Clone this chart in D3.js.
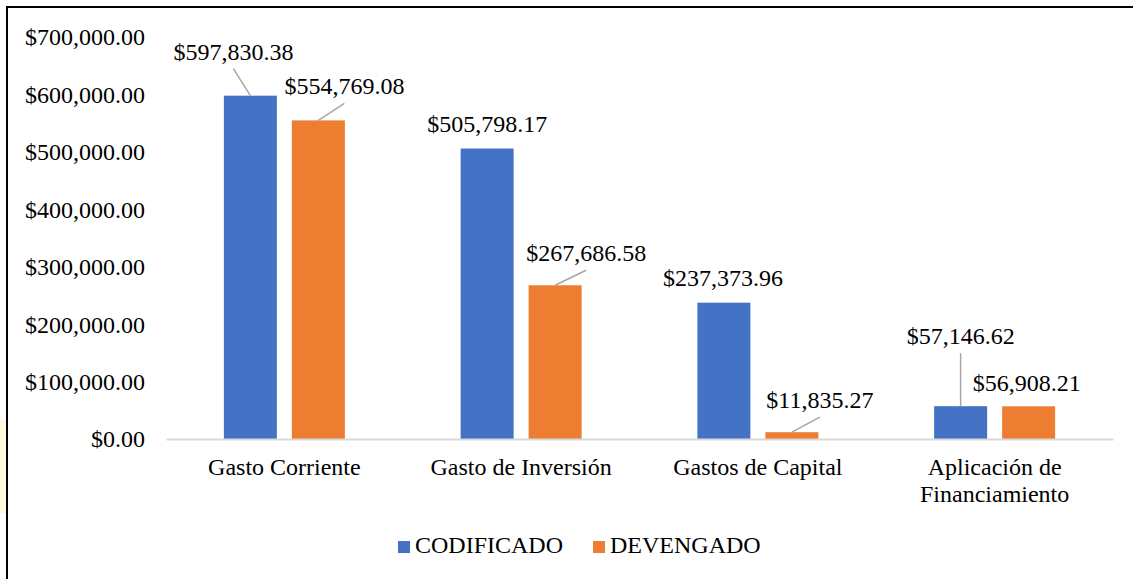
<!DOCTYPE html>
<html>
<head>
<meta charset="utf-8">
<script src="https://cdn.jsdelivr.net/npm/d3@7"></script>
</head>
<body style="margin:0; background:#fff">
<svg></svg>
<script>
let categories = ["Gasto Corriente", "Gasto de Inversión", "Gastos de Capital", "Aplicación de Financiamiento"];
let seriesNames = ["CODIFICADO", "DEVENGADO"];
let codificado = [597830.38, 505798.17, 237373.96, 57146.62];
let devengado = [554769.08, 267686.58, 11835.27, 56908.21];
let yTicks = [0, 100000, 200000, 300000, 400000, 500000, 600000, 700000];

// label placement relative to the bar top (dx, dy to baseline, leader line?)
let labelOffsets = [
    [[-17, -36, true], [26, -26, true]],
    [[0, -17, false], [31, -24, true]],
    [[-1, -17, false], [28, -24, true]],
    [[0, -62, true], [-2, -15, false]]
];

let colors = ["#4472C4", "#ED7D31"];
let font = "Liberation Serif";

let width = 1133;
let height = 579;

let plotLeft = 166;
let plotRight = 1113;
let plotTop = 37;
let plotBottom = 439;

let svg = d3.select("svg")
    .attr("width", width)
    .attr("height", height);

let money = (v) => "$" + d3.format(",.2f")(v);

// pale strip and frame
svg.append("rect")
    .attr("x", 0).attr("y", 420).attr("width", 6).attr("height", 93)
    .attr("fill", "#fff8dc");

svg.append("rect")
    .attr("x", 7).attr("y", 7)
    .attr("width", width + 20).attr("height", height + 20)
    .attr("fill", "none")
    .attr("stroke", "#000")
    .attr("stroke-width", 2);

let xScale = d3.scaleBand()
    .domain(categories)
    .range([plotLeft, plotRight]);

let yScale = d3.scaleLinear()
    .domain([0, 700000])
    .range([plotBottom, plotTop]);

let barWidth = 53;
let barGap = 15;

// y axis labels only
let yAxis = d3.axisLeft(yScale)
    .tickValues(yTicks)
    .tickSize(0)
    .tickPadding(0)
    .tickFormat(money);

svg.append("g")
    .attr("transform", "translate(145,0)")
    .call(yAxis)
    .call(g => g.select(".domain").remove())
    .selectAll("text")
    .style("font-size", "24px")
    .style("font-family", font)
    .attr("fill", "#000")
    .attr("dy", "0.33em");

// bars
let series = [codificado, devengado];

series.forEach((values, s) => {
    let offset = s === 0 ? -(barWidth + barGap / 2) : barGap / 2;
    svg.append("g")
        .selectAll("rect")
        .data(values)
        .enter()
        .append("rect")
        .attr("x", (d, i) => xScale(categories[i]) + xScale.bandwidth() / 2 + offset)
        .attr("y", (d) => yScale(d))
        .attr("width", barWidth)
        .attr("height", (d) => plotBottom - yScale(d))
        .attr("fill", colors[s]);
});

// x axis
let xAxis = d3.axisBottom(xScale).tickSize(0).tickPadding(0);

let xg = svg.append("g")
    .attr("transform", "translate(0," + plotBottom + ")")
    .call(xAxis);

xg.select(".domain")
    .attr("stroke", "#d9d9d9")
    .attr("stroke-width", 2);

xg.selectAll(".tick text").each(function(d) {
    let t = d3.select(this);
    t.text(null)
        .attr("y", 0)
        .attr("dy", null)
        .attr("fill", "#000")
        .style("font-size", "24px")
        .style("font-family", font);
    let lines = d === "Aplicación de Financiamiento" ? ["Aplicación de", "Financiamiento"] : [d];
    lines.forEach((line, k) => {
        t.append("tspan")
            .attr("x", 0)
            .attr("y", 36 + k * 27)
            .text(line);
    });
});

// data labels with leader lines
series.forEach((values, s) => {
    let offset = s === 0 ? -(barWidth + barGap / 2) : barGap / 2;
    values.forEach((v, i) => {
        let cx = xScale(categories[i]) + xScale.bandwidth() / 2 + offset + barWidth / 2;
        let top = yScale(v);
        let o = labelOffsets[i][s];
        if (o[2]) {
            svg.append("line")
                .attr("x1", cx).attr("y1", top)
                .attr("x2", cx + o[0]).attr("y2", top + o[1] + 9)
                .attr("stroke", "#a6a6a6")
                .attr("stroke-width", 1.5);
        }
        svg.append("text")
            .attr("x", cx + o[0])
            .attr("y", top + o[1])
            .attr("text-anchor", "middle")
            .style("font-size", "24px")
            .style("font-family", font)
            .text(money(v));
    });
});

// legend
let legend = svg.append("g");
let legendX = [398, 593];
seriesNames.forEach((name, s) => {
    legend.append("rect")
        .attr("x", legendX[s]).attr("y", 541)
        .attr("width", 12).attr("height", 12)
        .attr("fill", colors[s]);
    legend.append("text")
        .attr("x", legendX[s] + 17)
        .attr("y", 553)
        .style("font-size", "24px")
        .style("font-family", font)
        .text(name);
});
</script>
</body>
</html>
